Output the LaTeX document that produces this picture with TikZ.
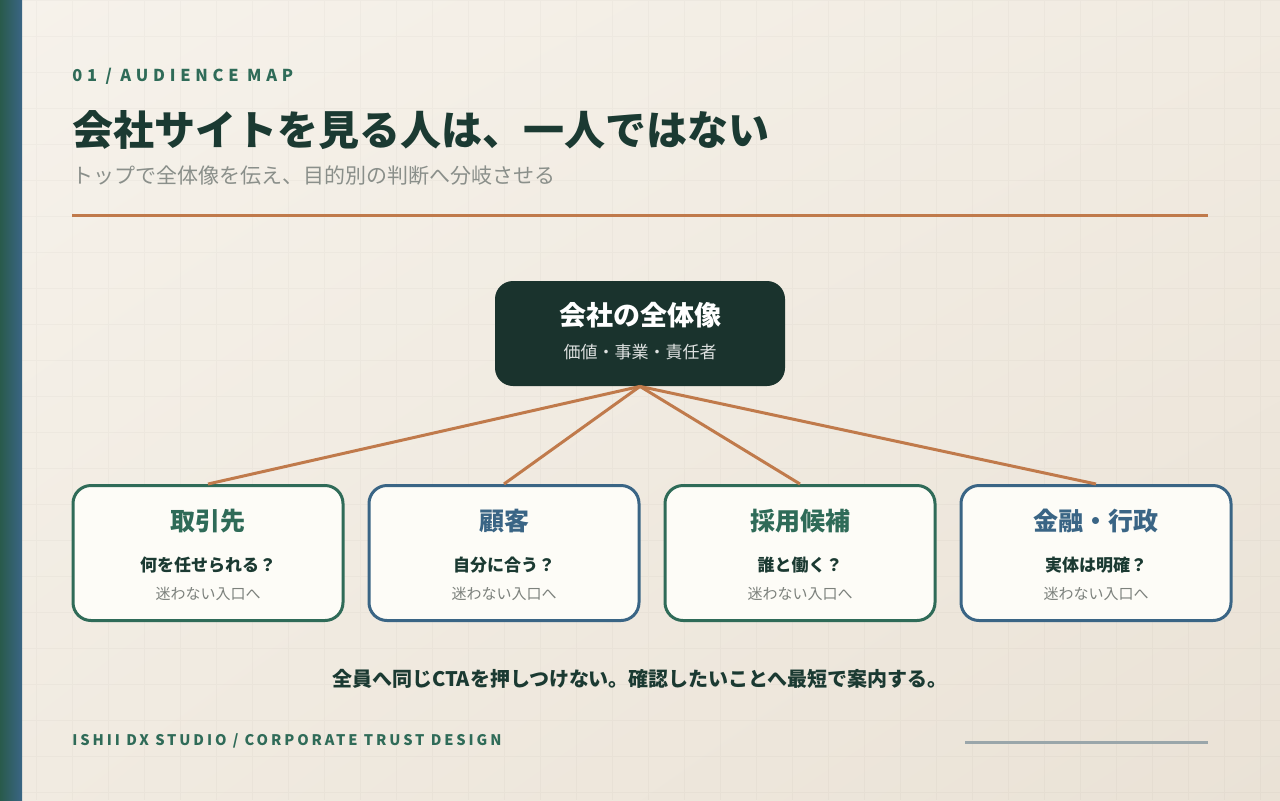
\documentclass[tikz,border=0pt]{standalone}
\usepackage{fontspec}
\setmainfont{Noto Sans CJK JP}
\usetikzlibrary{positioning,shadings}
\definecolor{bgtop}{HTML}{F6F2EB}
\definecolor{bgmid}{HTML}{F1EBE1}
\definecolor{bgbot}{HTML}{EAE2D6}
\definecolor{hubgreen}{HTML}{1A332D}
\definecolor{inkdark}{HTML}{1B3A32}
\definecolor{accgreen}{HTML}{2F6B58}
\definecolor{accblue}{HTML}{3A6585}
\definecolor{branchorange}{HTML}{C07A4B}
\definecolor{subgray}{HTML}{8A8F8A}
\definecolor{notegray}{HTML}{7C817C}
\definecolor{cardfill}{HTML}{FDFCF7}
\definecolor{rulegray}{HTML}{9AA6AA}
\newcommand\fsz[1]{\fontsize{#1}{#1}\selectfont}
\tikzset{
  gridline/.style={draw=black,opacity=0.022,line width=0.5pt},
  kicker/.style={anchor=west,inner sep=0pt,text=accgreen,font=\fsz{8.2}\bfseries\addfontfeatures{LetterSpace=29}},
  hub/.style={fill=hubgreen,rounded corners=9pt,minimum width=145pt,minimum height=52.5pt,inner sep=0pt},
  audbox/.style={draw=#1,fill=cardfill,line width=1.5pt,rounded corners=9pt,
    minimum width=135pt,minimum height=67.5pt,inner sep=0pt},
  audtitle/.style={text=#1,font=\fsz{12.5}\bfseries},
  audask/.style={text=inkdark,font=\fsz{8.5}\bfseries},
  audnote/.style={text=notegray,font=\fsz{7.5}},
  branch/.style={draw=branchorange,line width=1.5pt}
}
\begin{document}
\begin{tikzpicture}[x=0.5pt,y=-0.5pt]
\useasboundingbox (0,0) rectangle (1280,800);
% background
\shade[upper left=bgtop,upper right=bgmid,lower left=bgmid,lower right=bgbot] (0,0) rectangle (1280,800);
\draw[gridline,step=18pt] (0,0) grid (1280,800);
\shade[left color=accgreen!70!hubgreen,right color=accblue] (0,0) rectangle (22,800);
% header
\node[kicker] (kick) at (72,76) {01 / AUDIENCE MAP};
\node[anchor=west,inner sep=0pt,text=inkdark,font=\fsz{20.5}\bfseries] (title) at (72,130) {会社サイトを見る人は、一人ではない};
\node[anchor=west,inner sep=0pt,text=subgray,font=\fsz{10.5}] (lead) at (72,176) {トップで全体像を伝え、目的別の判断へ分岐させる};
\draw[branchorange,line width=1.5pt] (72,215) -- (1208,215);
% hub
\node[hub] (hub) at (640,333.5) {};
\node[text=white,font=\fsz{13.5}\bfseries] (hub-t) at (640,315) {会社の全体像};
\node[text=white!85!hubgreen,font=\fsz{8.5}] (hub-s) at (640,352) {価値・事業・責任者};
% audiences
\foreach \i/\cx/\col/\name/\ask in {1/208/accgreen/取引先/何を任せられる？,
    2/504/accblue/顧客/自分に合う？, 3/800/accgreen/採用候補/誰と働く？,
    4/1096/accblue/金融・行政/実体は明確？}{
  \node[audbox=\col] (aud\i) at (\cx,553) {};
  \draw[branch] (hub.south) -- (aud\i.north);
  \node[audtitle=\col] (aud\i-t) at (\cx,521) {\name};
  \node[audask] (aud\i-q) at (\cx,565) {\ask};
  \node[audnote] (aud\i-n) at (\cx,594) {迷わない入口へ};
}
% footer
\node[text=inkdark,font=\fsz{10}\bfseries] (motto) at (640,679) {全員へ同じCTAを押しつけない。確認したいことへ最短で案内する。};
\node[kicker,font=\fsz{7.3}\bfseries\addfontfeatures{LetterSpace=20}] (foot) at (72,741) {ISHII DX STUDIO / CORPORATE TRUST DESIGN};
\draw[rulegray,line width=1.5pt] (965,742) -- (1208,742);
\end{tikzpicture}
\end{document}
